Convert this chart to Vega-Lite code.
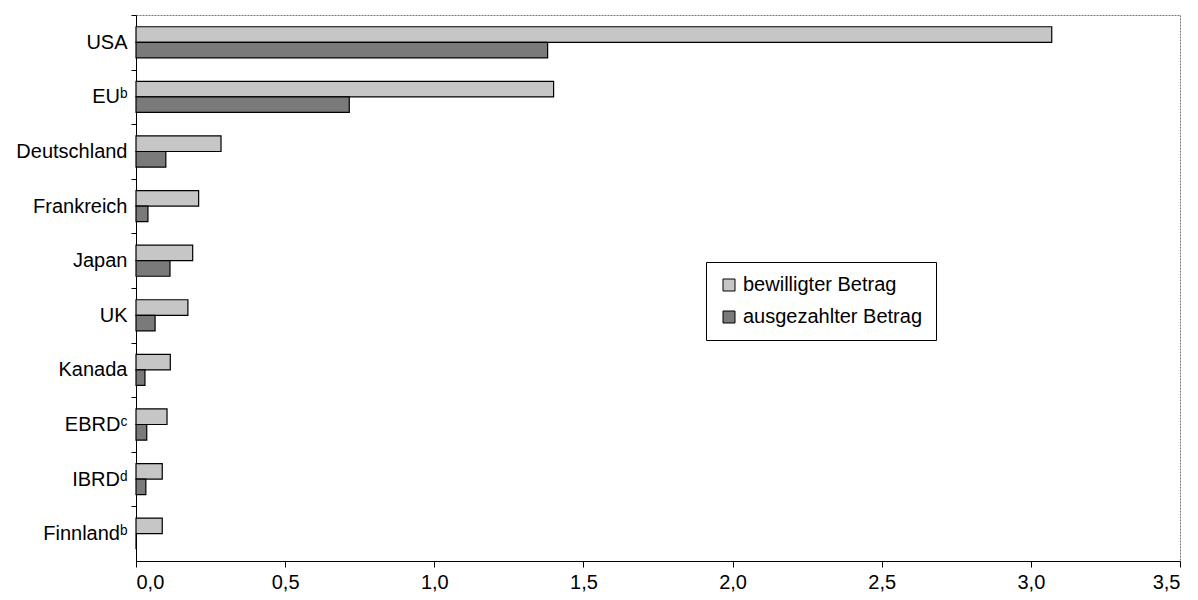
{
  "$schema": "https://vega.github.io/schema/vega-lite/v6.json",
  "width": 1044,
  "height": 546,
  "autosize": {"type": "none"},
  "padding": {"left": 136, "top": 15, "right": 18, "bottom": 39},
  "background": "white",
  "config": {
    "font": "Liberation Sans",
    "view": {"stroke": "#777", "strokeDash": [2, 1], "strokeWidth": 1}
  },
  "data": {
    "values": [
      {"Land": "USA", "Serie": "bewilligter Betrag", "Wert": 3.07},
      {"Land": "USA", "Serie": "ausgezahlter Betrag", "Wert": 1.38},
      {"Land": "EUᵇ", "Serie": "bewilligter Betrag", "Wert": 1.40},
      {"Land": "EUᵇ", "Serie": "ausgezahlter Betrag", "Wert": 0.715},
      {"Land": "Deutschland", "Serie": "bewilligter Betrag", "Wert": 0.285},
      {"Land": "Deutschland", "Serie": "ausgezahlter Betrag", "Wert": 0.10},
      {"Land": "Frankreich", "Serie": "bewilligter Betrag", "Wert": 0.21},
      {"Land": "Frankreich", "Serie": "ausgezahlter Betrag", "Wert": 0.04},
      {"Land": "Japan", "Serie": "bewilligter Betrag", "Wert": 0.19},
      {"Land": "Japan", "Serie": "ausgezahlter Betrag", "Wert": 0.114},
      {"Land": "UK", "Serie": "bewilligter Betrag", "Wert": 0.174},
      {"Land": "UK", "Serie": "ausgezahlter Betrag", "Wert": 0.064},
      {"Land": "Kanada", "Serie": "bewilligter Betrag", "Wert": 0.115},
      {"Land": "Kanada", "Serie": "ausgezahlter Betrag", "Wert": 0.03},
      {"Land": "EBRDᶜ", "Serie": "bewilligter Betrag", "Wert": 0.104},
      {"Land": "EBRDᶜ", "Serie": "ausgezahlter Betrag", "Wert": 0.036},
      {"Land": "IBRDᵈ", "Serie": "bewilligter Betrag", "Wert": 0.088},
      {"Land": "IBRDᵈ", "Serie": "ausgezahlter Betrag", "Wert": 0.033},
      {"Land": "Finnlandᵇ", "Serie": "bewilligter Betrag", "Wert": 0.088},
      {"Land": "Finnlandᵇ", "Serie": "ausgezahlter Betrag", "Wert": 0}
    ]
  },
  "mark": {"type": "bar", "stroke": "black", "strokeWidth": 1.2},
  "encoding": {
    "y": {
      "field": "Land",
      "type": "nominal",
      "sort": null,
      "scale": {"paddingInner": 0.43, "paddingOuter": 0.215},
      "axis": {
        "title": null,
        "tickOffset": -27.3,
        "labelOffset": 27.3,
        "domainColor": "black",
        "tickColor": "black",
        "tickSize": 5,
        "labelFontSize": 20,
        "labelColor": "black",
        "labelPadding": 4
      }
    },
    "yOffset": {
      "field": "Serie",
      "type": "nominal",
      "sort": ["bewilligter Betrag", "ausgezahlter Betrag"]
    },
    "x": {
      "field": "Wert",
      "type": "quantitative",
      "scale": {"domain": [0, 3.5], "nice": false},
      "axis": {
        "title": null,
        "values": [0, 0.5, 1, 1.5, 2, 2.5, 3, 3.5],
        "labelExpr": "replace(format(datum.value, '.1f'), '.', ',')",
        "grid": false,
        "domainColor": "black",
        "tickColor": "black",
        "tickSize": 6,
        "labelFontSize": 20,
        "labelColor": "black",
        "labelPadding": 5
      }
    },
    "fill": {
      "field": "Serie",
      "type": "nominal",
      "sort": ["bewilligter Betrag", "ausgezahlter Betrag"],
      "scale": {"range": ["#c6c6c6", "#7a7a7a"]},
      "legend": {
        "title": null,
        "orient": "none",
        "legendX": 570,
        "legendY": 247,
        "strokeColor": "black",
        "fillColor": "white",
        "padding": 13,
        "symbolType": "square",
        "symbolSize": 144,
        "symbolStrokeColor": "black",
        "symbolStrokeWidth": 1,
        "labelFontSize": 20,
        "labelColor": "black",
        "labelLimit": 300,
        "rowPadding": 12,
        "labelOffset": 4
      }
    }
  }
}
